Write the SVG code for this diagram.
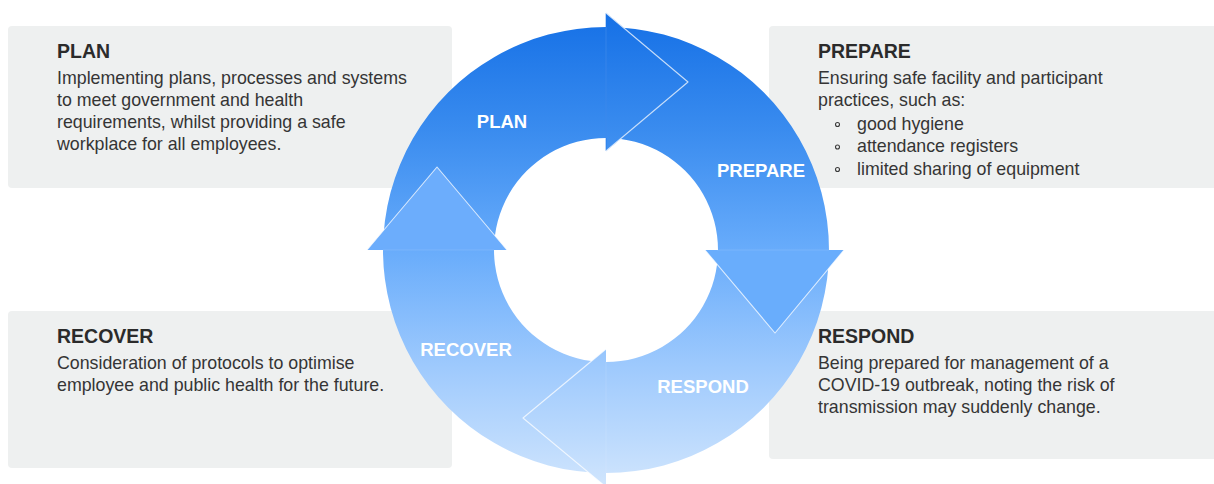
<svg xmlns="http://www.w3.org/2000/svg" width="1214" height="484" viewBox="0 0 1214 484">
  <defs>
    <linearGradient id="ringGrad" gradientUnits="userSpaceOnUse" x1="0" y1="13" x2="0" y2="487">
      <stop offset="0" stop-color="#1570e6"/>
      <stop offset="0.25" stop-color="#3a8cef"/>
      <stop offset="0.5" stop-color="#68acfb"/>
      <stop offset="0.75" stop-color="#9fcafd"/>
      <stop offset="1" stop-color="#d0e5fd"/>
    </linearGradient>
    <style>
      .box { fill: #eef0f0; }
      .head { font-family: "Liberation Sans", Arial, sans-serif; font-weight: bold; font-size: 19.5px; fill: #2b2b2b; }
      .body { font-family: "Liberation Sans", Arial, sans-serif; font-size: 17.8px; fill: #353535; }
      .ringlabel { font-family: "Liberation Sans", Arial, sans-serif; font-weight: bold; font-size: 18.5px; fill: #ffffff; text-anchor: middle; }
      .edge { fill: none; stroke: #ffffff; stroke-opacity: 0.75; stroke-width: 1.1; stroke-linejoin: round; stroke-linecap: round; }
      .back { fill: none; stroke: #ffffff; stroke-opacity: 0.12; stroke-width: 1; }
      .bullet { fill: none; stroke: #3a3a3a; stroke-width: 1.1; }
    </style>
  </defs>

  <g id="node-plan">
    <rect class="box" x="8" y="26" width="444" height="162" rx="4"/>
    <text class="head" x="57" y="58">PLAN</text>
    <text class="body" x="57" y="83.5">Implementing plans, processes and systems</text>
    <text class="body" x="57" y="105.8">to meet government and health</text>
    <text class="body" x="57" y="128">requirements, whilst providing a safe</text>
    <text class="body" x="57" y="150.3">workplace for all employees.</text>
  </g>

  <g id="node-prepare">
    <rect class="box" x="769" y="26" width="449" height="162" rx="4"/>
    <text class="head" x="818" y="58">PREPARE</text>
    <text class="body" x="818" y="83.5">Ensuring safe facility and participant</text>
    <text class="body" x="818" y="105.8">practices, such as:</text>
    <circle class="bullet" cx="837.5" cy="124.5" r="2"/>
    <text class="body" x="857" y="129.5">good hygiene</text>
    <circle class="bullet" cx="837.5" cy="147" r="2"/>
    <text class="body" x="857" y="152">attendance registers</text>
    <circle class="bullet" cx="837.5" cy="169.5" r="2"/>
    <text class="body" x="857" y="174.5">limited sharing of equipment</text>
  </g>

  <g id="node-recover">
    <rect class="box" x="8" y="311" width="444" height="157" rx="4"/>
    <text class="head" x="57" y="343">RECOVER</text>
    <text class="body" x="57" y="368.5">Consideration of protocols to optimise</text>
    <text class="body" x="57" y="390.8">employee and public health for the future.</text>
  </g>

  <g id="node-respond">
    <rect class="box" x="769" y="311" width="449" height="148" rx="4"/>
    <text class="head" x="818" y="343">RESPOND</text>
    <text class="body" x="818" y="368.5">Being prepared for management of a</text>
    <text class="body" x="818" y="390.8">COVID-19 outbreak, noting the risk of</text>
    <text class="body" x="818" y="413">transmission may suddenly change.</text>
  </g>

  <g id="connectors">
    <path fill="url(#ringGrad)" fill-rule="evenodd" d="M 606 27 A 223 223 0 1 1 605.99 27 Z M 606 138 A 112 112 0 1 0 606.01 138 Z"/>
    <!-- top arrowhead: PLAN to PREPARE -->
    <polygon fill="url(#ringGrad)" points="606,13 688,82 606,151" stroke="#1a74e8" stroke-width="0.6" stroke-linejoin="round"/>
    <line class="back" x1="606" y1="27" x2="606" y2="138"/>
    <polyline class="edge" points="606,13 688,82 606,151"/>
    <!-- right arrowhead: PREPARE to RESPOND -->
    <polygon fill="#69adfc" points="705,250 844,250 775,333"/>
    <line class="back" x1="717" y1="250" x2="829" y2="250"/>
    <polyline class="edge" points="705,250 775,333 844,250"/>
    <!-- bottom arrowhead: RESPOND to RECOVER -->
    <polygon fill="url(#ringGrad)" points="606,349 606,487 523,418"/>
    <line class="back" x1="606" y1="362" x2="606" y2="473"/>
    <polyline class="edge" points="606,349 523,418 606,487"/>
    <!-- left arrowhead: RECOVER to PLAN -->
    <polygon fill="#6cadfc" points="367,250 507,250 437,167"/>
    <line class="back" x1="383" y1="250" x2="494" y2="250"/>
    <polyline class="edge" points="367,250 437,167 507,250"/>
  </g>

  <g id="ring-labels">
    <text class="ringlabel" x="502" y="128">PLAN</text>
    <text class="ringlabel" x="761" y="177">PREPARE</text>
    <text class="ringlabel" x="466" y="356">RECOVER</text>
    <text class="ringlabel" x="703" y="393">RESPOND</text>
  </g>
</svg>
